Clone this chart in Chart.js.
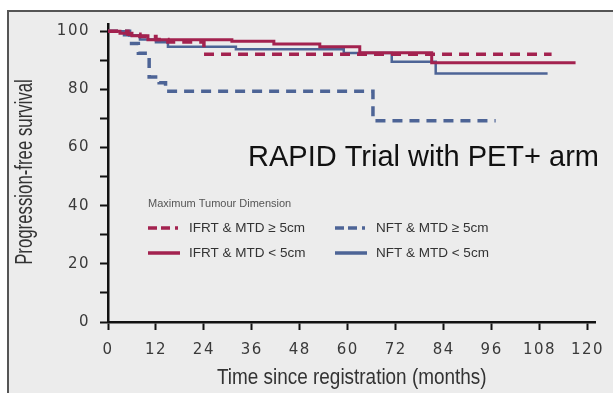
<!DOCTYPE html>
<html>
<head>
<meta charset="utf-8">
<script src="https://cdn.jsdelivr.net/npm/chart.js@4/dist/chart.umd.min.js"></script>
<style>
  body { margin: 0; background: #fff; }
  canvas { display: block; }
</style>
</head>
<body>
<canvas id="pfs" width="613" height="393"></canvas>
<script>
// ---------------- données ----------------
const xTicks = [0, 12, 24, 36, 48, 60, 72, 84, 96, 108, 120];
const yTicks = [0, 10, 20, 30, 40, 50, 60, 70, 80, 90, 100];

// IFRT & MTD >= 5cm (rouge pointillé)
const ifrtLargeMonths = [0, 5, 8, 12, 15, 24, 111];
const ifrtLargeValues = [100, 99, 98.2, 97.2, 96.3, 92.1, 92.1];

// IFRT & MTD < 5cm (rouge plein)
const ifrtSmallMonths = [0, 3, 6, 10, 31, 41.5, 53, 63, 81, 117];
const ifrtSmallValues = [100, 99.3, 98.5, 97.1, 96.6, 95.6, 94.7, 92.6, 89.2, 89.2];

// NFT & MTD >= 5cm (bleu pointillé)
const nftLargeMonths = [0, 5.4, 7.6, 10.3, 12.8, 14.4, 66.3, 97];
const nftLargeValues = [100, 95.8, 92.4, 84.3, 82.3, 79.4, 69.2, 69.2];

// NFT & MTD < 5cm (bleu plein)
const nftSmallMonths = [0, 4, 8, 12, 15, 32, 59, 71, 82, 110];
const nftSmallValues = [100, 98.6, 97.2, 96.2, 94.7, 93.8, 92.5, 89.5, 85.5, 85.5];

const xTitle = 'Time since registration (months)';
const yTitle = 'Progression-free survival';
const chartTitle = 'RAPID Trial with PET+ arm';
const legendTitle = 'Maximum Tumour Dimension';

const RED = '#a3224f';
const BLUE = '#4d6496';

function toPoints(months, values) {
  return months.map((m, i) => ({ x: m, y: values[i] }));
}

// texte "narrow" : Liberation Sans compressé horizontalement
function narrowText(ctx, text, x, y, size, squeeze, rotate) {
  ctx.save();
  ctx.translate(x, y);
  if (rotate) ctx.rotate(-Math.PI / 2);
  ctx.scale(squeeze, 1);
  ctx.font = size + 'px "Liberation Sans", Arial, sans-serif';
  ctx.textAlign = 'center';
  ctx.textBaseline = 'middle';
  ctx.fillText(text, 0, 0);
  ctx.restore();
}

// ---------------- fond, cadre, titres, légende ----------------
const framePlugin = {
  id: 'frame',
  beforeDraw(chart) {
    const ctx = chart.ctx;
    ctx.save();
    ctx.fillStyle = '#ffffff';
    ctx.fillRect(0, 0, chart.width, chart.height);
    ctx.fillStyle = '#ececec';
    ctx.fillRect(9, 12, chart.width - 9, chart.height - 12);
    ctx.strokeStyle = '#555';
    ctx.lineWidth = 2;
    ctx.beginPath();
    ctx.moveTo(8, chart.height);
    ctx.lineTo(8, 11);
    ctx.lineTo(chart.width, 11);
    ctx.stroke();
    ctx.restore();
  },
  // espacement des chiffres des graduations (dessinées après les courbes)
  afterDatasetsDraw(chart) {
    chart.ctx.letterSpacing = '1.5px';
  },
  afterDraw(chart) {
    const ctx = chart.ctx;
    ctx.letterSpacing = '0px';
    const area = chart.chartArea;
    ctx.save();

    // titres des axes
    ctx.fillStyle = '#333';
    narrowText(ctx, xTitle, (area.left + area.right) / 2, 378, 22, 0.86, false);
    narrowText(ctx, yTitle, 26, 172, 23, 0.73, true);

    // titre
    ctx.fillStyle = '#111';
    ctx.font = '29px "Liberation Sans", Arial, sans-serif';
    ctx.textBaseline = 'alphabetic';
    ctx.textAlign = 'left';
    ctx.fillText(chartTitle, area.left + 140, 166);

    // légende
    const lx = area.left + 40;
    ctx.fillStyle = '#555';
    ctx.font = '11px "Liberation Sans", Arial, sans-serif';
    ctx.textBaseline = 'middle';
    ctx.fillText(legendTitle, lx, 204);

    const items = [
      { ds: 1, col: 0, row: 0 },
      { ds: 0, col: 0, row: 1 },
      { ds: 3, col: 1, row: 0 },
      { ds: 2, col: 1, row: 1 }
    ];
    items.forEach(it => {
      const ds = chart.data.datasets[it.ds];
      const x0 = lx + it.col * 187;
      const y = 228 + it.row * 25;
      ctx.strokeStyle = ds.borderColor;
      ctx.lineWidth = 3.5;
      ctx.setLineDash(ds.borderDash && ds.borderDash.length ? [9, 4, 9, 5, 3, 40] : []);
      ctx.beginPath();
      ctx.moveTo(x0, y);
      ctx.lineTo(x0 + 32, y);
      ctx.stroke();
      ctx.setLineDash([]);
      ctx.fillStyle = '#333';
      ctx.font = '13.5px "Liberation Sans", Arial, sans-serif';
      ctx.fillText(ds.label, x0 + 41, y);
    });
    ctx.restore();
  }
};

// ---------------- graphique ----------------
const tickFont = { family: '"DejaVu Sans", sans-serif', size: 15 };

const ctx = document.getElementById('pfs').getContext('2d');
new Chart(ctx, {
  type: 'line',
  data: {
    datasets: [
      {
        label: 'IFRT & MTD < 5cm',
        data: toPoints(ifrtSmallMonths, ifrtSmallValues),
        borderColor: RED,
        borderWidth: 3,
        stepped: true,
        pointRadius: 0,
        fill: false
      },
      {
        label: 'IFRT & MTD \u2265 5cm',
        data: toPoints(ifrtLargeMonths, ifrtLargeValues),
        borderColor: RED,
        borderWidth: 3.5,
        borderDash: [10, 7],
        stepped: true,
        pointRadius: 0,
        fill: false
      },
      {
        label: 'NFT & MTD < 5cm',
        data: toPoints(nftSmallMonths, nftSmallValues),
        borderColor: BLUE,
        borderWidth: 2.5,
        stepped: true,
        pointRadius: 0,
        fill: false
      },
      {
        label: 'NFT & MTD \u2265 5cm',
        data: toPoints(nftLargeMonths, nftLargeValues),
        borderColor: BLUE,
        borderWidth: 3.5,
        borderDash: [10, 7],
        stepped: true,
        pointRadius: 0,
        fill: false
      }
    ]
  },
  options: {
    responsive: false,
    animation: false,
    devicePixelRatio: 1,
    layout: { padding: { left: 0, top: 24, right: 8, bottom: 0 } },
    plugins: {
      legend: { display: false },
      tooltip: { enabled: false }
    },
    scales: {
      x: {
        type: 'linear',
        min: 0,
        max: 122,
        afterBuildTicks: scale => { scale.ticks = xTicks.map(v => ({ value: v })); },
        afterFit: scale => { scale.height = 71; },
        border: { color: '#111', width: 2.5 },
        grid: { drawOnChartArea: false, drawTicks: true, tickLength: 8, tickColor: '#111', tickWidth: 2 },
        ticks: {
          z: 1,
          padding: 11,
          maxRotation: 0,
          color: '#3a3a3a',
          font: tickFont
        },
        title: { display: false, text: xTitle }
      },
      y: {
        min: 0,
        max: 102.5,
        afterBuildTicks: scale => { scale.ticks = yTicks.map(v => ({ value: v })); },
        afterFit: scale => { scale.width = 108; },
        border: { color: '#111', width: 2.5 },
        grid: { drawOnChartArea: false, drawTicks: true, tickLength: 8, tickColor: '#111', tickWidth: 2 },
        ticks: {
          z: 1,
          padding: 10,
          color: '#3a3a3a',
          font: tickFont,
          callback: v => (v % 20 === 0 ? String(v) : '')
        },
        title: { display: false, text: yTitle }
      }
    }
  },
  plugins: [framePlugin]
});
</script>
</body>
</html>
